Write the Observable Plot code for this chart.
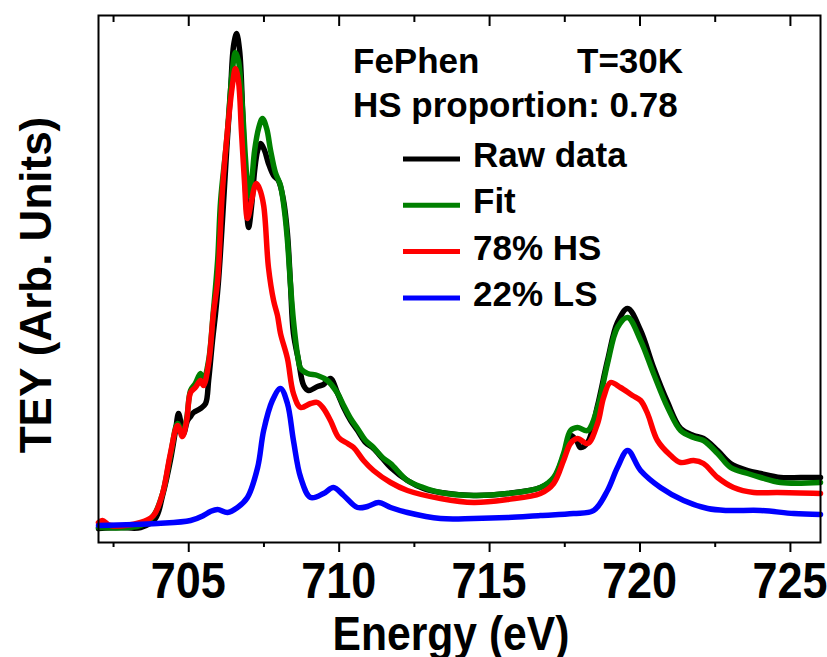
<!DOCTYPE html>
<html>
<head>
<meta charset="utf-8">
<script src="https://cdn.jsdelivr.net/npm/d3@7"></script>
<script src="https://cdn.jsdelivr.net/npm/@observablehq/plot@0.6"></script>
<style>
  html, body { margin: 0; padding: 0; background: #fff; }
  #chart svg { display: block; }
</style>
</head>
<body>
<div id="chart"></div>
<script>
// ---- data (intensity in arbitrary units) ----
const rawE = [702.00,702.73,703.40,703.89,704.13,704.39,704.56,704.66,704.76,704.83,704.96,705.06,705.16,705.39,705.56,705.66,705.79,705.89,705.99,706.12,706.26,706.39,706.49,706.59,706.69,706.79,706.89,706.99,707.09,707.19,707.29,707.39,707.52,707.65,707.82,707.98,708.15,708.28,708.38,708.48,708.65,708.82,708.98,709.28,709.48,709.71,709.95,710.15,710.38,710.61,710.88,711.14,711.44,711.71,712.27,712.80,713.37,714.47,715.60,716.69,717.13,717.46,717.69,717.89,718.02,718.26,718.59,718.92,719.25,719.59,720.02,720.45,720.92,721.35,721.78,722.11,722.58,723.01,723.58,724.01,724.67,725.34,726.00];
const rawI = [14,15,15,24,47,82,112,129,117,109,122,126,130,134,139,162,202,229,262,322,392,452,497,509,492,432,352,315,337,372,392,399,392,379,367,362,342,309,259,209,182,157,152,156,158,164,149,135,122,112,100,94,84,75,62,54,50,47,49,55,64,87,107,102,95,100,137,182,220,234,212,175,140,114,107,104,92,79,72,69,65,65,65];

const fitE = [702.00,703.40,703.83,704.13,704.39,704.63,704.79,704.93,705.06,705.22,705.39,705.49,705.66,705.82,705.96,706.06,706.26,706.45,706.55,706.65,706.79,706.89,706.99,707.09,707.19,707.32,707.45,707.59,707.72,707.88,708.05,708.18,708.28,708.38,708.48,708.62,708.72,708.95,709.28,709.61,709.95,710.15,710.38,710.61,710.88,711.14,711.44,711.71,712.27,712.80,713.37,714.47,715.60,716.69,717.13,717.46,717.69,717.92,718.26,718.59,718.92,719.25,719.59,720.02,720.45,720.92,721.35,721.78,722.11,722.58,723.01,723.58,724.01,724.67,726.00];
const fitI = [15,17,27,49,87,119,109,124,152,159,169,162,182,232,282,342,402,472,490,482,432,382,347,362,392,414,424,414,392,370,357,332,302,259,222,187,174,169,167,162,149,137,124,114,102,95,85,79,62,55,50,47,49,55,65,89,112,115,112,135,179,215,225,202,169,135,112,105,102,89,75,69,65,60,60];

const hsE = [702.00,702.13,702.40,703.40,703.83,704.13,704.39,704.63,704.79,704.93,705.06,705.22,705.39,705.49,705.66,705.82,705.96,706.12,706.32,706.45,706.55,706.65,706.75,706.85,706.95,707.09,707.19,707.25,707.35,707.49,707.65,707.82,707.95,708.05,708.28,708.48,708.72,709.05,709.28,709.48,709.71,709.98,710.28,710.48,710.81,711.14,711.71,712.27,713.37,714.47,715.60,716.69,717.13,717.46,717.69,717.92,718.26,718.59,718.79,719.02,719.35,719.75,720.02,720.25,720.58,721.02,721.35,721.78,722.11,722.58,723.11,723.78,724.57,726.00];
const hsI = [20,22,17,20,27,49,89,117,106,122,150,155,162,157,179,229,262,352,422,457,474,462,412,362,324,342,356,359,354,337,275,242,227,209,184,149,135,139,140,134,122,105,99,95,82,72,60,52,44,40,43,49,59,82,99,104,99,119,145,160,155,147,142,129,102,87,80,82,79,65,55,50,50,49];

const lsE = [702.00,703.96,705.06,705.49,705.72,705.96,706.29,706.62,706.95,707.29,707.49,707.78,708.05,708.28,708.48,708.72,709.05,709.48,709.81,710.15,710.61,710.94,711.31,711.71,712.27,713.37,714.47,715.60,716.69,717.79,718.46,718.92,719.25,719.59,720.02,720.68,721.45,722.25,722.91,724.01,725.11,726.00];
const lsI = [17,19,22,27,31,33,30,35,45,75,112,142,154,139,102,65,45,49,55,47,35,36,40,35,30,24,24,25,27,29,32,52,75,92,72,55,42,34,32,32,29,28];

const seriesNames = ["Raw data", "Fit", "78% HS", "22% LS"];
const seriesColors = ["#000000", "#008000", "#ff0000", "#0000ff"];
const majorTicks = [705, 710, 715, 720, 725];
const minorTicks = [702.5, 707.5, 712.5, 717.5, 722.5];
const tickLabels = ["705", "710", "715", "720", "725"];
const xLabel = "Energy (eV)";
const yLabel = "TEY (Arb. Units)";
const noteLine1a = "FePhen";
const noteLine1b = "T=30K";
const noteLine2 = "HS proportion: 0.78";

// ---- build table ----
const seriesE = [rawE, fitE, hsE, lsE];
const seriesI = [rawI, fitI, hsI, lsI];
const rows = [];
seriesNames.forEach((name, k) => {
  seriesE[k].forEach((e, i) => rows.push({series: name, energy: e, tey: seriesI[k][i]}));
});

const W = 827, H = 657;
const plot = Plot.plot({
  width: W,
  height: H,
  marginLeft: 98,
  marginRight: 7,
  marginTop: 15,
  marginBottom: 115,
  style: {background: "#fff", overflow: "visible"},
  x: {domain: [702, 726]},
  y: {domain: [0, 527], axis: null},
  color: {domain: seriesNames, range: seriesColors},
  marks: [
    Plot.line(rows, {x: "energy", y: "tey", z: "series", stroke: "series", strokeWidth: 5.5, curve: "catmull-rom", strokeLinejoin: "round", strokeLinecap: "round"}),
    Plot.frame({stroke: "#000", strokeWidth: 2}),
    // bottom axis: outward ticks
    Plot.axisX(majorTicks, {anchor: "bottom", tickSize: 10, strokeWidth: 2, text: null, label: null}),
    Plot.axisX(minorTicks, {anchor: "bottom", tickSize: 5, strokeWidth: 2, text: null, label: null}),
    // top axis: inward ticks
    Plot.axisX(majorTicks, {anchor: "top", tickSize: -10, strokeWidth: 2, text: null, label: null}),
    Plot.axisX(minorTicks, {anchor: "top", tickSize: -6, strokeWidth: 2, text: null, label: null})
  ]
});

document.getElementById("chart").appendChild(plot);

const svg = d3.select(plot);
const xs = plot.scale("x");
const fam = '"Liberation Sans", Arial, sans-serif';

// tick labels (condensed bold, positioned by the x scale)
const tl = svg.append("g").attr("font-family", fam).attr("font-size", 50).attr("font-weight", "bold").attr("text-anchor", "middle");
majorTicks.forEach((v, i) => {
  tl.append("text")
    .attr("transform", `translate(${xs.apply(v)},598) scale(0.9,1)`)
    .text(tickLabels[i]);
});

// axis titles
svg.append("text")
  .attr("transform", "translate(451,650) scale(0.87,1)")
  .attr("text-anchor", "middle")
  .attr("font-family", fam)
  .attr("font-size", 49).attr("font-weight", "bold")
  .text(xLabel);
svg.append("text")
  .attr("transform", "translate(51,285) rotate(-90)")
  .attr("text-anchor", "middle")
  .attr("font-family", fam)
  .attr("font-size", 44).attr("font-weight", "bold")
  .text(yLabel);

// annotations
const note = svg.append("g").attr("font-family", fam).attr("font-size", 35).attr("font-weight", "bold").attr("text-anchor", "start");
note.append("text").attr("x", 353).attr("y", 73).text(noteLine1a);
note.append("text").attr("x", 577).attr("y", 73).text(noteLine1b);
note.append("text").attr("x", 353).attr("y", 117).text(noteLine2);

// legend
const leg = svg.append("g").attr("font-family", fam).attr("font-size", 35).attr("font-weight", "bold").attr("text-anchor", "start");
seriesNames.forEach((name, k) => {
  const cy = 159 + k * 46.3;
  leg.append("line").attr("x1", 403).attr("x2", 460).attr("y1", cy).attr("y2", cy)
    .attr("stroke", seriesColors[k]).attr("stroke-width", 5);
  leg.append("text").attr("x", 473).attr("y", cy + 8).text(name);
});
</script>
</body>
</html>
